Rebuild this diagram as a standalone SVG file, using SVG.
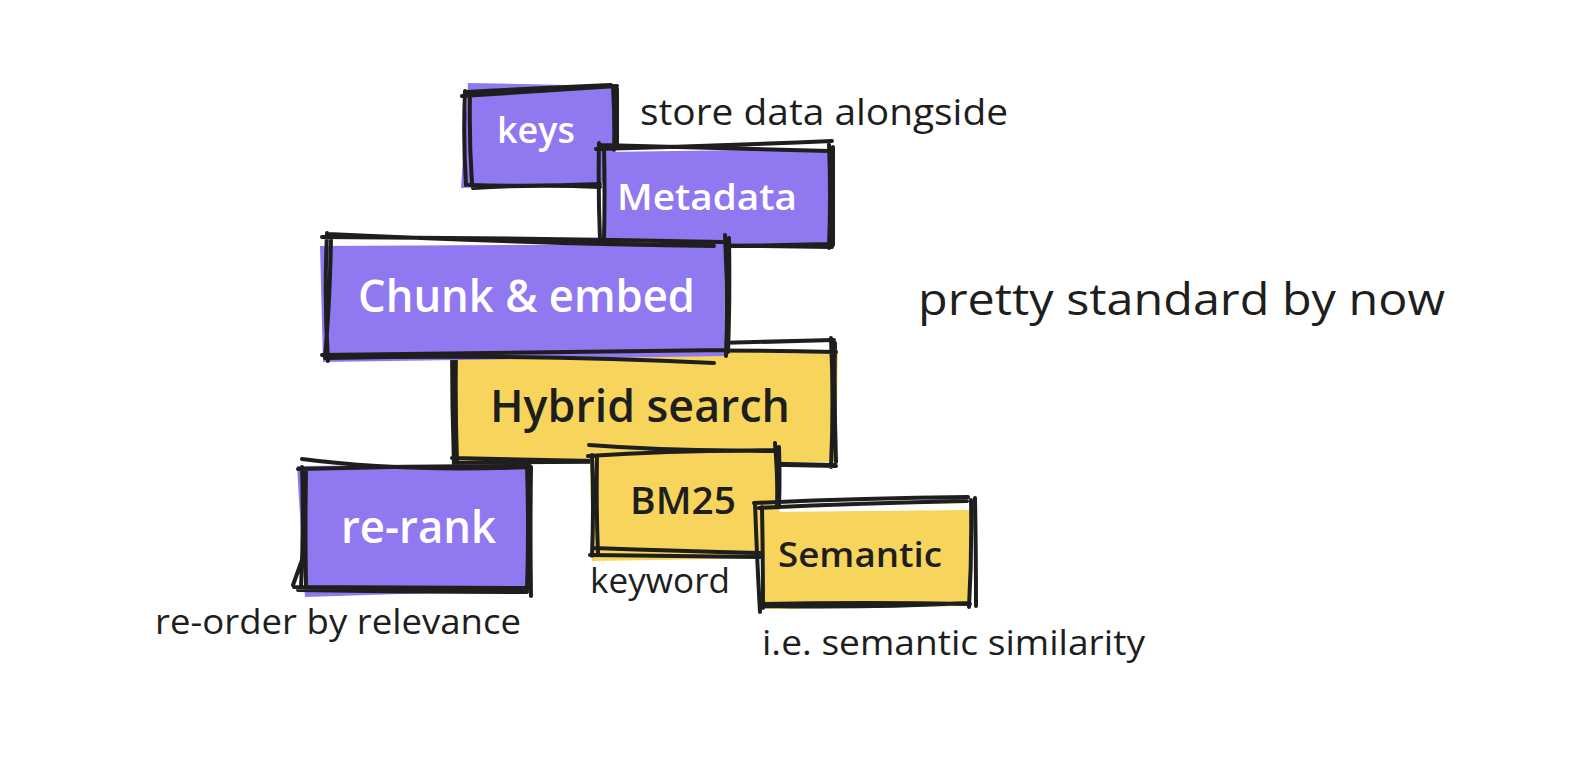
<svg xmlns="http://www.w3.org/2000/svg" width="1570" height="782" viewBox="0 0 1570 782">
<style>
.bg{fill:#ffffff}
.p{fill:#9078f0}
.y{fill:#f7d55c}
.s{fill:none;stroke:#1e1e1e;stroke-width:4;stroke-linecap:round;stroke-linejoin:round}
.t{font-family:"Open Sans","Noto Sans",sans-serif;font-weight:600}
.w{fill:#ffffff}
.d{fill:#1e1e1e}
.n{font-family:"Open Sans","Noto Sans",sans-serif;font-weight:500;fill:#1e1e1e}
</style>
<rect class="bg" width="1570" height="782"/>
<g id="keys">
<path class="p" d="M468,83 L614,86 L612,182 L461,188 Z"/>
<path class="s" d="M462,96 Q540,91 617,86 M467,92 Q540,88 611,85 M465,91 Q463,140 466,185 M470,93 Q469,140 472,183 M613,86 Q615,120 614,150 M617,89 Q617,120 617,145 M469,185 Q535,187 600,184 M473,188 Q535,184 600,187"/>
<text class="t w" x="497" y="143" font-size="36" textLength="78" lengthAdjust="spacingAndGlyphs">keys</text>
</g>
<g id="metadata">
<path class="p" d="M605,152 L829,149 L828,246 L604,244 Z"/>
<path class="s" d="M596,149 Q715,146 832,141 M600,145 Q715,148 829,151 M599,143 Q598,190 600,240 M604,146 Q605,195 604,240 M829,144 Q831,195 829,248 M833,147 Q833,195 833,245 M603,244 Q715,245 832,247 M600,248 Q715,247 830,244"/>
<text class="t w" x="617" y="210" font-size="36" textLength="180" lengthAdjust="spacingAndGlyphs">Metadata</text>
</g>
<g id="hybrid">
<path class="y" d="M455,352 L838,350 L836,462 L452,464 Z"/>
<path class="s" d="M450,350 Q640,345 834,340 M455,353 Q640,348 836,352 M452,346 Q452,405 454,466 M456,350 Q455,405 457,463 M831,338 Q834,400 831,467 M835,343 Q834,400 836,462 M452,458 Q640,462 836,466 M456,463 Q640,460 834,465"/>
<text class="t d" x="490" y="422" font-size="46" textLength="300" lengthAdjust="spacingAndGlyphs">Hybrid search</text>
</g>
<g id="chunk">
<path class="p" d="M320,246 L724,244 L725,356 L323,362 Z"/>
<path class="s" d="M322,237 Q520,238 722,242 M328,234 Q540,244 714,246 M327,233 Q324,300 328,361 M331,238 Q330,300 325,358 M725,235 Q728,300 726,356 M729,238 Q730,300 728,352 M322,355 Q520,352 727,350 M328,358 Q520,354 714,363"/>
<text class="t w" x="358" y="312" font-size="46" textLength="337" lengthAdjust="spacingAndGlyphs">Chunk &amp; embed</text>
</g>
<g id="rerank">
<path class="p" d="M297,466 L529,464 L527,590 L305,597 Z"/>
<path class="s" d="M302,459 Q400,472 530,467 M298,469 Q415,466 530,466 M302,467 Q304,525 301,588 M306,470 Q305,530 306,585 M293,585 L302,560 M527,466 Q529,530 527,590 M531,467 Q530,530 531,596 M294,587 Q410,588 528,588 M298,590 Q410,592 527,592"/>
<text class="t w" x="341" y="543" font-size="46" textLength="155" lengthAdjust="spacingAndGlyphs">re-rank</text>
</g>
<g id="bm25">
<path class="y" d="M590,455 L780,452 L779,558 L592,561 Z"/>
<path class="s" d="M589,445 Q680,452 776,450 M588,456 Q680,450 778,451 M592,455 Q594,505 592,556 M597,458 Q596,505 598,553 M775,443 Q778,480 777,505 M779,447 Q780,480 779,505 M593,548 Q680,551 760,553 M590,555 Q680,556 760,557"/>
<text class="t d" x="630" y="514" font-size="38" textLength="106" lengthAdjust="spacingAndGlyphs">BM25</text>
</g>
<g id="semantic">
<path class="y" d="M765,512 L970,510 L971,606 L765,609 Z"/>
<path class="s" d="M754,503 Q860,498 968,497 M759,508 Q860,503 967,501 M755,503 Q757,560 760,612 M762,507 Q763,560 763,608 M971,500 Q972,555 969,607 M975,498 Q976,555 976,606 M760,604 Q865,602 970,604 M764,606 Q865,608 968,603"/>
<text class="t d" x="778" y="567" font-size="34" textLength="164" lengthAdjust="spacingAndGlyphs">Semantic</text>
</g>
<g id="labels">
<text class="n" x="640" y="125" font-size="36" textLength="368" lengthAdjust="spacingAndGlyphs">store data alongside</text>
<text class="n" x="918" y="315" font-size="44" textLength="527" lengthAdjust="spacingAndGlyphs">pretty standard by now</text>
<text class="n" x="590" y="593" font-size="34" textLength="140" lengthAdjust="spacingAndGlyphs">keyword</text>
<text class="n" x="155" y="634" font-size="34" textLength="366" lengthAdjust="spacingAndGlyphs">re-order by relevance</text>
<text class="n" x="762" y="655" font-size="34" textLength="383" lengthAdjust="spacingAndGlyphs">i.e. semantic similarity</text>
</g>
<g id="connectors"></g>
</svg>
